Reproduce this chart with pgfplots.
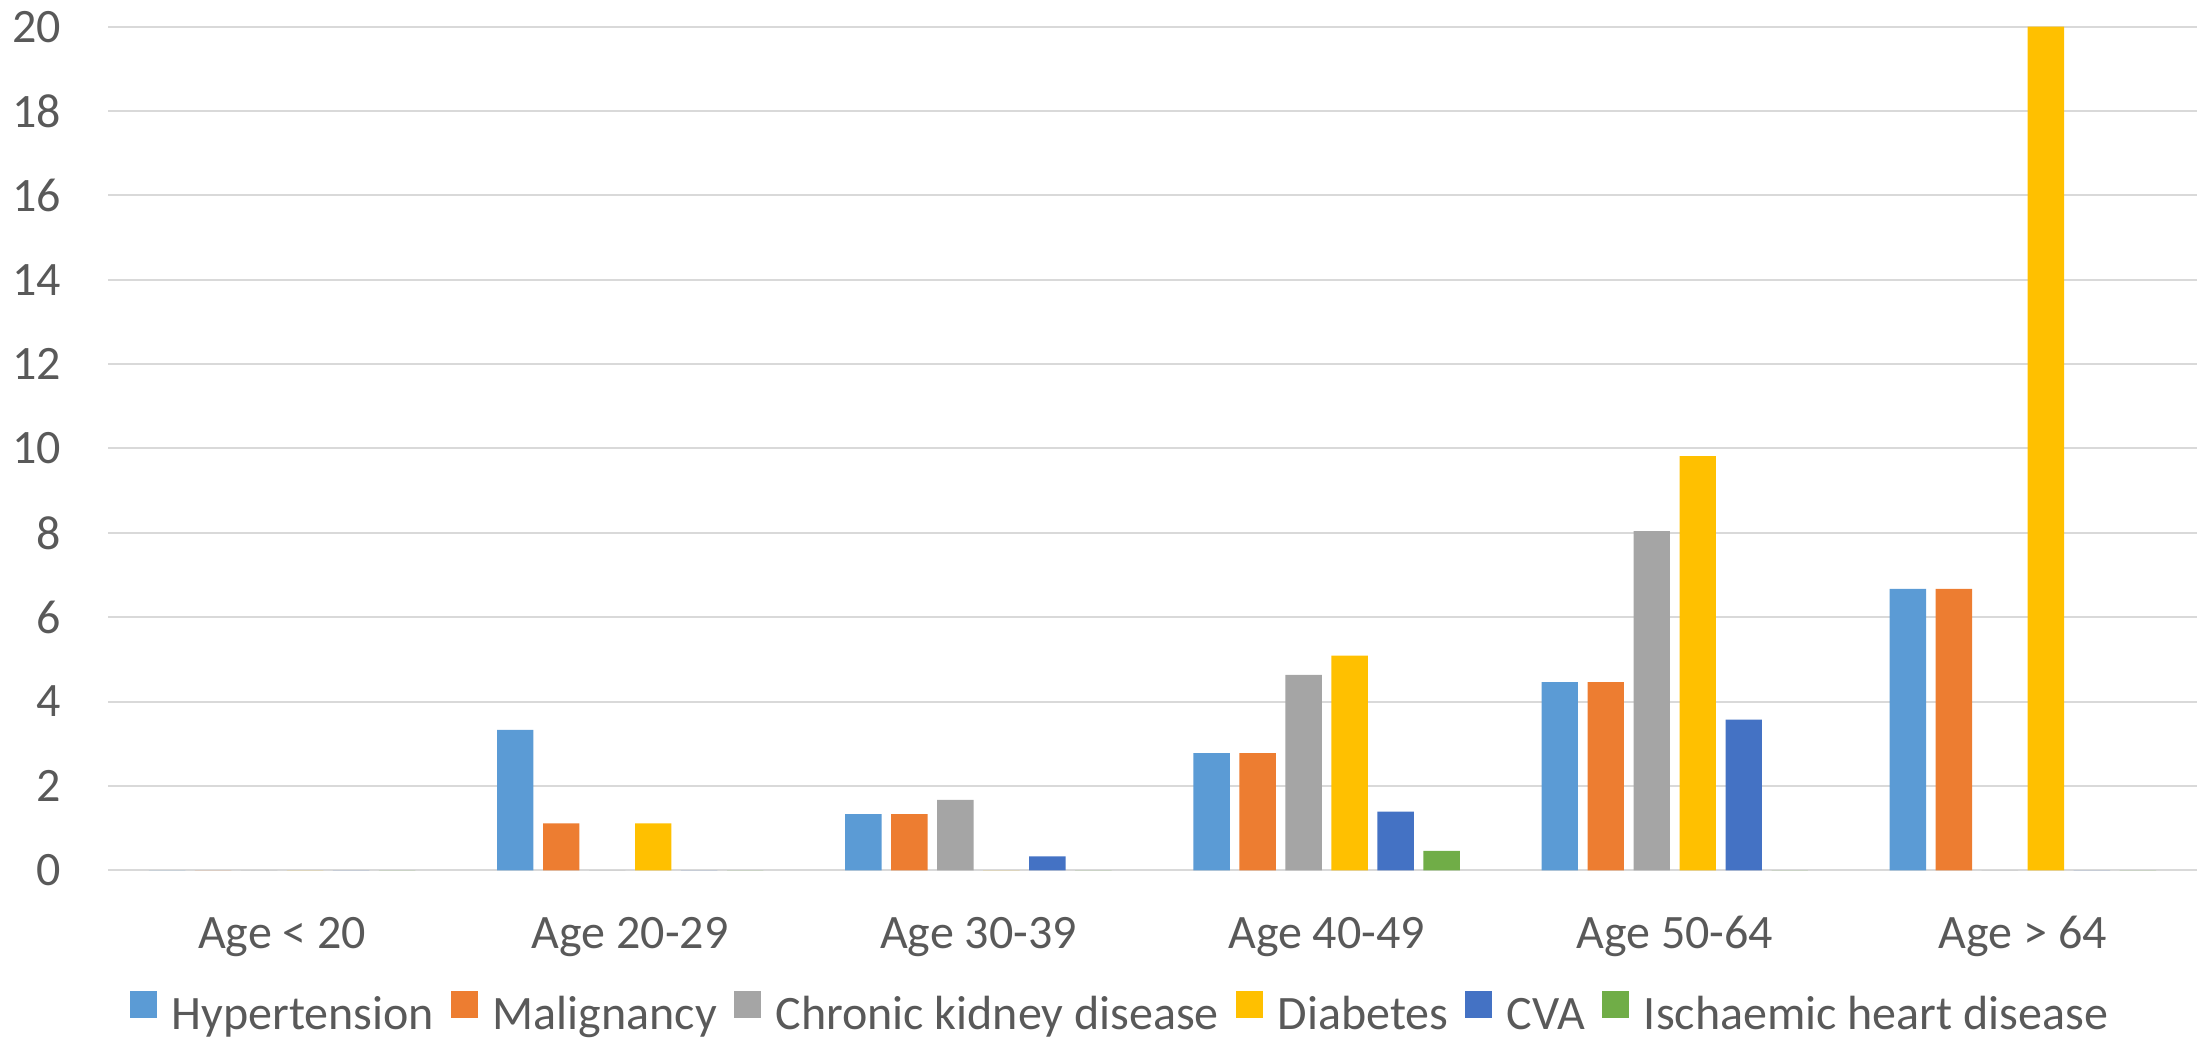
\documentclass[border=0pt]{standalone}
\usepackage{pgfplots}
\pgfplotsset{compat=1.18}
\usepackage{fontspec}
\setmainfont{Carlito}
\usetikzlibrary{calc}

\definecolor{cHyp}{HTML}{5B9BD5}
\definecolor{cMal}{HTML}{ED7D31}
\definecolor{cCKD}{HTML}{A5A5A5}
\definecolor{cDia}{HTML}{FFC000}
\definecolor{cCVA}{HTML}{4472C4}
\definecolor{cIHD}{HTML}{70AD47}
\definecolor{txt}{HTML}{595959}
\definecolor{gridc}{HTML}{D9D9D9}

% Rates per age group (categories 0..5)
\pgfplotstableread{
x  hyp   mal   ckd   dia    cva   ihd
0  0     0     0     0      0     0
1  3.33  1.11  0     1.11   0     0
2  1.33  1.33  1.67  0      0.33  0
3  2.78  2.78  4.63  5.09   1.39  0.46
4  4.46  4.46  8.04  9.82   3.57  0
5  6.67  6.67  0     20.0   0     0
}\datatable

\begin{document}
\fontsize{12pt}{14pt}\selectfont
\begin{tikzpicture}
\begin{axis}[
  scale only axis,
  width=522.25pt, height=210.9pt,
  ybar=2.4pt, bar width=9.1pt,
  xmin=-0.5, xmax=5.5,
  ymin=0, ymax=20,
  xtick={0,...,5},
  xticklabels={Age < 20, Age 20-29, Age 30-39, Age 40-49, Age 50-64, Age > 64},
  ytick={0,2,...,20},
  ymajorgrids,
  grid style={color=gridc, line width=0.5pt},
  axis line style={draw=none},
  major tick length=0pt,
  tick style={draw=none},
  tick label style={font=\fontsize{12pt}{14pt}\selectfont, text=txt},
  /pgf/number format/assume math mode=true,
  yticklabel style={inner sep=0pt, anchor=east, xshift=-11.5pt},
  xticklabel style={inner sep=0pt, anchor=base, yshift=-19.5pt},
  legend columns=6,
  legend style={
    draw=none, fill=none, inner sep=0pt, outer sep=0pt,
    at={(0.0105,-0.1431)}, anchor=north west,
    font=\fontsize{12pt}{14pt}\selectfont, text=txt,
    nodes={inner sep=0pt, text height=9pt, text depth=3pt},
    /tikz/every odd column/.append style={column sep=3.75pt},
    /tikz/every even column/.append style={column sep=4.25pt},
  },
  legend image code/.code={\fill[#1] (0pt,0pt) rectangle (6.67pt,6.67pt);},
]
\addplot[fill=cHyp, draw=none] table[x=x, y=hyp] {\datatable};
\addplot[fill=cMal, draw=none] table[x=x, y=mal] {\datatable};
\addplot[fill=cCKD, draw=none] table[x=x, y=ckd] {\datatable};
\addplot[fill=cDia, draw=none] table[x=x, y=dia] {\datatable};
\addplot[fill=cCVA, draw=none] table[x=x, y=cva] {\datatable};
\addplot[fill=cIHD, draw=none] table[x=x, y=ihd] {\datatable};
\legend{Hypertension, Malignancy, Chronic kidney disease, Diabetes, CVA, Ischaemic heart disease}
\coordinate (O) at (rel axis cs:0,0);
\end{axis}
\pgfresetboundingbox
\path ($(O)+(-27pt,-41.93pt)$) rectangle +(550.25pt,259.5pt);
\end{tikzpicture}
\end{document}
